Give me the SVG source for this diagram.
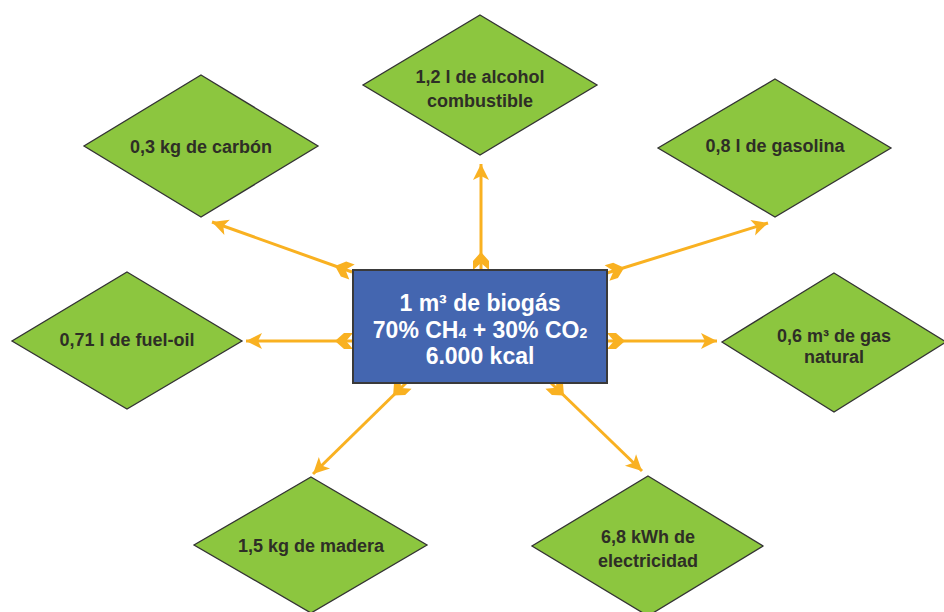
<svg xmlns="http://www.w3.org/2000/svg" width="944" height="612" viewBox="0 0 944 612">
  <style>
    .dia { fill: #8cc63f; stroke: #333333; stroke-width: 1.3; }
    .lbl { font-family: "Liberation Sans", Arial, sans-serif; font-size: 18px; font-weight: bold; fill: #2e2e26; text-anchor: middle; }
    .ctr { font-family: "Liberation Sans", Arial, sans-serif; font-size: 23px; font-weight: bold; fill: #ffffff; text-anchor: middle; }
    .con { stroke: #f9b121; stroke-width: 3; fill: none; marker-start: url(#tail); marker-end: url(#head); }
  </style>
  <defs>
    <marker id="head" markerUnits="userSpaceOnUse" orient="auto" markerWidth="20" markerHeight="20" refX="0" refY="0" overflow="visible">
      <path d="M0,0 L-16,-8 L-12,0 L-16,8 Z" fill="#f9b121"/>
    </marker>
    <marker id="tail" markerUnits="userSpaceOnUse" orient="auto" markerWidth="20" markerHeight="20" refX="0" refY="0" overflow="visible">
      <path d="M0,-8 L9,-8 L18,0 L9,8 L0,8 L7,0 Z" fill="#f9b121"/>
    </marker>
  </defs>
  <rect width="944" height="612" fill="#ffffff"/>

  <g id="connectors">
    <line class="con" x1="352" y1="272" x2="212" y2="222"/>
    <line class="con" x1="481" y1="270" x2="481" y2="164"/>
    <line class="con" x1="607" y1="273" x2="768" y2="223"/>
    <line class="con" x1="353" y1="341" x2="246" y2="341"/>
    <line class="con" x1="607" y1="341" x2="717" y2="341"/>
    <line class="con" x1="406" y1="383" x2="313" y2="474"/>
    <line class="con" x1="551" y1="383" x2="642" y2="471"/>
  </g>

  <g id="center">
    <rect x="353" y="270" width="254" height="113" fill="#4466b0" stroke="#3a3a3a" stroke-width="2"/>
    <text class="ctr" x="480" y="311">1 m³ de biogás</text>
    <text class="ctr" x="480" y="338">70% CH<tspan font-size="14">4</tspan> + 30% CO<tspan font-size="14">2</tspan></text>
    <text class="ctr" x="480" y="364">6.000 kcal</text>
  </g>

  <g id="n-carbon">
    <polygon class="dia" points="201,75 318,146 201,217 84,146"/>
    <text class="lbl" x="201" y="153">0,3 kg de carbón</text>
  </g>

  <g id="n-alcohol">
    <polygon class="dia" points="480,15 597,85 480,155 363,85"/>
    <text class="lbl" x="480" y="83">1,2 l de alcohol</text>
    <text class="lbl" x="480" y="107">combustible</text>
  </g>

  <g id="n-gasolina">
    <polygon class="dia" points="775,79 891,148 775,217 658,148"/>
    <text class="lbl" x="775" y="152">0,8 l de gasolina</text>
  </g>

  <g id="n-fueloil">
    <polygon class="dia" points="127,272 242,341 127,409 12,341"/>
    <text class="lbl" x="127" y="346">0,71 l de fuel-oil</text>
  </g>

  <g id="n-gasnatural">
    <polygon class="dia" points="834,273 946,342 834,412 722,342"/>
    <text class="lbl" x="834" y="342">0,6 m³ de gas</text>
    <text class="lbl" x="834" y="363">natural</text>
  </g>

  <g id="n-madera">
    <polygon class="dia" points="311,477 427,545 311,613 194,545"/>
    <text class="lbl" x="311" y="552">1,5 kg de madera</text>
  </g>

  <g id="n-electricidad">
    <polygon class="dia" points="648,476 763,546 648,616 532,546"/>
    <text class="lbl" x="648" y="543">6,8 kWh de</text>
    <text class="lbl" x="648" y="567">electricidad</text>
  </g>
</svg>
